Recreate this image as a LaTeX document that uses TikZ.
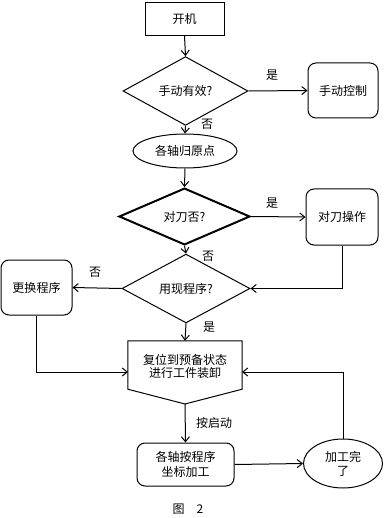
\documentclass[tikz,border=0pt]{standalone}
\usepackage{fontspec}
\setmainfont{Noto Sans CJK SC}
\usetikzlibrary{shapes.geometric,arrows.meta}
\tikzset{
  base/.style={draw,line width=1pt,inner sep=1pt,font=\fontsize{12}{14}\selectfont,align=center},
  boxnode/.style={base,rectangle},
  roundnode/.style={base,rectangle,rounded corners=8pt},
  ellnode/.style={base,ellipse},
  decnode/.style={base,diamond},
  lbl/.style={font=\fontsize{12}{14}\selectfont,inner sep=0pt},
  conn/.style={line width=1pt,-{Straight Barb[length=5pt,width=8pt,line width=1pt]}},
  plain/.style={line width=1pt}
}
\begin{document}
\begin{tikzpicture}[x=1pt,y=-1pt]
\useasboundingbox (0,0) rectangle (383,518);
\node[boxnode,minimum width=79pt,minimum height=33pt] (kj) at (184.5,19) {开机};
\node[decnode,minimum width=125pt,minimum height=46pt] (d1) at (185.5,91) {手动有效?};
\node[roundnode,minimum width=70pt,minimum height=55pt] (sk) at (343,90.5) {手动控制};
\node[ellnode,minimum width=104pt,minimum height=34pt] (el1) at (185,151) {各轴归原点};
\node[decnode,line width=2pt,minimum width=131pt,minimum height=47pt] (d2) at (184.5,216.5) {对刀否?};
\node[roundnode,minimum width=72pt,minimum height=56pt] (dd) at (342,217) {对刀操作};
\node[decnode,minimum width=128pt,minimum height=47pt] (d3) at (186,288.5) {用现程序?};
\node[roundnode,minimum width=71pt,minimum height=55pt] (gh) at (36.5,287.5) {更换程序};
% pentagon-like process shape
\node[rectangle,minimum width=114pt,minimum height=48pt,inner sep=0pt] (fw) at (185,365) {};
\coordinate (fwtip) at (185,404);
\draw[plain] (fw.north west) -- (fw.north east) -- (fw.south east) -- (fwtip) -- (fw.south west) -- cycle;
\node[lbl,align=center,font=\fontsize{12}{13.5}\selectfont] (fwt) at (185,366.5) {复位到预备状态\\进行工件装卸};
\coordinate (fwl) at (128,372);
\coordinate (fwr) at (242,372);
\node[roundnode,minimum width=97pt,minimum height=43pt,font=\fontsize{12}{14.5}\selectfont] (ax) at (185.5,464.5) {各轴按程序\\坐标加工};
\node[ellnode,minimum width=79pt,minimum height=49pt,inner sep=0pt] (el2) at (343,463.5) {加工完\\了};
\node[lbl] (cap) at (188,509) {图\hspace{1em}2};
% labels
\node[lbl] (l1) at (272,75) {是};
\node[lbl] (l2) at (207,124) {否};
\node[lbl] (l3) at (272,203) {是};
\node[lbl] (l4) at (208,256) {否};
\node[lbl] (l5) at (95,272) {否};
\node[lbl] (l6) at (209,327) {是};
\node[lbl] (l7) at (214,423) {按启动};
% connectors
\draw[conn] (kj.south) -- (d1.north);
\draw[conn] (d1.east) -- (sk.west);
\draw[conn] (d1.south) -- (el1.north);
\draw[conn] (el1.south) -- (d2.north);
\draw[conn] (d2.east) -- (dd.west);
\draw[conn] (d2.south) -- (d3.north);
\draw[conn] (dd.south) |- (d3.east);
\draw[conn] (d3.west) -- (gh.east);
\draw[conn] (d3.south) -- (fw.north);
\draw[conn] (gh.south) |- (fwl);
\draw[conn] (fwtip) -- (ax.north);
\draw[conn] (ax.east) -- (el2.west);
\draw[conn] (el2.north) |- (fwr);
\end{tikzpicture}
\end{document}
